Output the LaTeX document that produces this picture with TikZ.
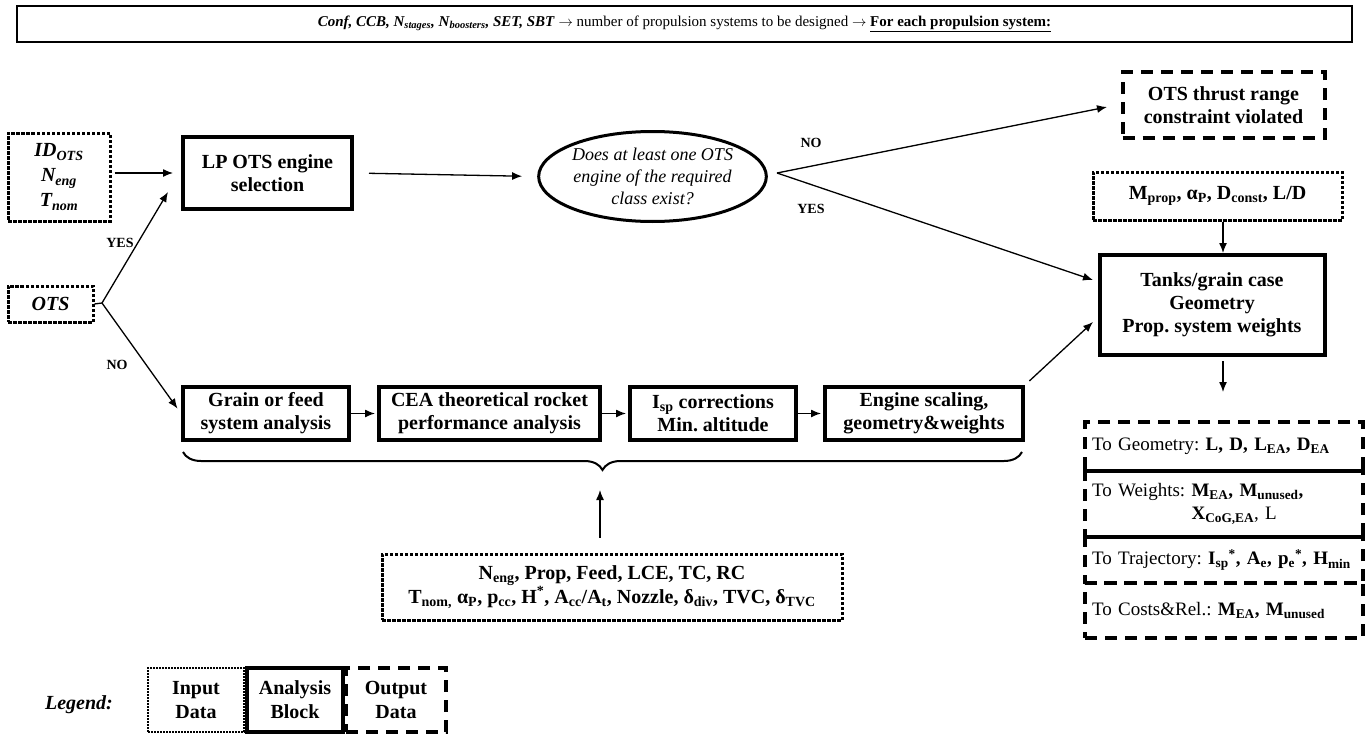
\documentclass[tikz,border=0pt]{standalone}
\usepackage{fontspec}
\setmainfont{Liberation Serif}
\usetikzlibrary{arrows.meta,shapes.geometric,decorations.pathreplacing,calc}
\newcommand{\sbs}[1]{\textsubscript{#1}}
\newcommand{\sps}[1]{\textsuperscript{#1}}
\newcommand{\fsz}[2]{\fontsize{#1}{#2}\selectfont}
\frenchspacing
\begin{document}
\frenchspacing
\begin{tikzpicture}[x=1pt,y=-1pt,
  every node/.style={inner sep=0pt, align=center},
  anbox/.style={draw, line width=4pt, fill=white, font=\bfseries\fsz{20}{23}},
  inbox/.style={draw, line width=3pt, dash pattern=on 3.5pt off 1.5pt, font=\bfseries\fsz{20}{24}},
  outbox/.style={draw, line width=4pt, dash pattern=on 12pt off 8pt, font=\bfseries\fsz{20}{23}},
  outrow/.style={outbox, font=\fsz{19}{23}, text width=264pt, align=left, inner xsep=7pt, minimum width=278pt},
  lbl/.style={font=\bfseries\fsz{14}{16}},
  conn/.style={line width=1.3pt, -{Latex[length=10pt,width=8pt]}},
  plain/.style={line width=1.3pt}]
\useasboundingbox (0,0) rectangle (1369,736);

% heading banner
\node[draw, line width=1.5pt, minimum width=1335pt, minimum height=36pt, font=\fsz{15}{18}] (head) at (684.5,24)
  {\textbf{\textit{Conf, CCB, N\sbs{stages}, N\sbs{boosters}, SET, SBT}} $\rightarrow$ number of propulsion systems to be designed $\rightarrow$ \textbf{\underline{For each propulsion system:}}};

% inputs on the left
\node[inbox, font=\bfseries\itshape\fsz{20}{25}, minimum width=102pt, minimum height=88pt] (id) at (59,177)
  {ID\sbs{OTS}\\N\sbs{eng}\\T\sbs{nom}};
\node[inbox, font=\bfseries\itshape\fsz{20}{24}, minimum width=85pt, minimum height=36pt] (ots) at (50.5,304) {OTS};

% off-the-shelf branch
\node[anbox, minimum width=169pt, minimum height=72pt] (lp) at (267.5,173) {LP OTS engine\\selection};
\node[ellipse, draw, line width=3pt, minimum width=219pt, minimum height=90pt, font=\itshape\fsz{18}{22}] (q) at (652.5,176.5)
  {Does at least one OTS\\engine of the required\\class exist?};

% right column
\node[outbox, minimum width=202pt, minimum height=66pt] (viol) at (1223.5,105) {OTS thrust range\\constraint violated};
\node[inbox, minimum width=249pt, minimum height=48pt] (mp) at (1217.5,196) {M\sbs{prop}, α\sbs{P}, D\sbs{const}, L/D};
\node[anbox, minimum width=225pt, minimum height=100pt] (tank) at (1212,305) {Tanks/grain case\\Geometry\\Prop. system weights};

\node[outrow, minimum height=49pt] (o1) at (1224,446.5) {To Geometry: \textbf{L, D, L\sbs{EA}, D\sbs{EA}}};
\node[outrow, minimum height=66pt] (o2) at (1224,504) {To Weights: \textbf{M\sbs{EA}, M\sbs{unused},}\\\phantom{To Weights: }\textbf{X\sbs{CoG,EA}}, L};
\node[outrow, minimum height=46pt] (o3) at (1224,560) {To Trajectory: \textbf{I\sbs{sp}\sps{*}, A\sbs{e}, p\sbs{e}\sps{*}, H\sbs{min}}};
\node[outrow, minimum height=55pt] (o4) at (1224,610.5) {To Costs\&Rel.: \textbf{M\sbs{EA}, M\sbs{unused}}};

% design-from-scratch chain
\node[anbox, minimum width=166pt, minimum height=53pt] (grain) at (266,413.5) {Grain or feed\\system analysis};
\node[anbox, minimum width=221pt, minimum height=53pt] (cea) at (489.5,413.5) {CEA theoretical rocket\\performance analysis};
\node[anbox, minimum width=166pt, minimum height=53pt] (isp) at (713,413.5) {I\sbs{sp} corrections\\Min. altitude};
\node[anbox, minimum width=198pt, minimum height=53pt] (eng) at (924,413.5) {Engine scaling,\\geometry\&weights};

\node[inbox, minimum width=460pt, minimum height=66pt] (data) at (612,587)
  {N\sbs{eng}, Prop, Feed, LCE, TC, RC\\T\sbs{nom,} α\sbs{P}, p\sbs{cc}, H\sps{*}, A\sbs{cc}/A\sbs{t}, Nozzle, δ\sbs{div}, TVC, δ\sbs{TVC}};

% connector end points
\coordinate (split) at (102,303);
\coordinate (yestip) at (168,192);
\coordinate (fork) at (777,173);
\coordinate (violtip) at (1107,107);
\coordinate (tanktip) at (1093,280);
\coordinate (engtip) at (1093,322);
\coordinate (vx) at (1223,0);
\coordinate (braceL) at (183,452);
\coordinate (braceR) at (1022,452);
\coordinate (bracetip) at (600,490);

% connectors
\draw[conn, shorten <=3pt, shorten >=8pt] (id.east |- lp.west) -- (lp.west);
\draw[plain] (ots.east) -- (split);
\draw[conn] (split) -- (yestip);
\draw[conn, shorten >=6pt] (split) -- (grain.west);
\draw[conn, shorten <=15pt, shorten >=15pt] (lp.east) -- (q.west);
\draw[conn] (fork) -- (violtip);
\draw[conn] (fork) -- (tanktip);
\draw[conn, shorten <=6pt] (eng.north east) -- (engtip);
\draw[conn] (mp.south -| vx) -- (tank.north -| vx);
\draw[conn, shorten <=4pt] (tank.south -| vx) -- ($(o1.north -| vx)+(0,-28)$);
\draw[conn, shorten >=2pt] (grain) -- (cea);
\draw[conn, shorten >=2pt] (cea) -- (isp);
\draw[conn, shorten >=2pt] (isp) -- (eng);
\draw[line width=2pt, decorate, decoration={brace, mirror, amplitude=18pt}] (braceL) -- (braceR);
\draw[conn, shorten <=15pt] (data.north -| bracetip) -- (bracetip);

% branch labels
\node[lbl] (yes1) at (120,243) {YES};
\node[lbl] (no1) at (117,365) {NO};
\node[lbl] (no2) at (811,143) {NO};
\node[lbl] (yes2) at (811,209) {YES};

% legend
\node[font=\bfseries\itshape\fsz{20}{23}] (leg) at (79,705) {Legend:};
\node[draw, line width=1.5pt, dash pattern=on 2pt off 1pt, font=\bfseries\fsz{20}{24}, minimum width=96pt, minimum height=64pt] (lin) at (196,700) {Input\\Data};
\node[anbox, fill=none, font=\bfseries\fsz{20}{24}, minimum width=96pt, minimum height=64pt] (lan) at (295,700) {Analysis\\Block};
\node[outbox, font=\bfseries\fsz{20}{24}, minimum width=100pt, minimum height=64pt] (lout) at (396,700) {Output\\Data};
\end{tikzpicture}
\end{document}
